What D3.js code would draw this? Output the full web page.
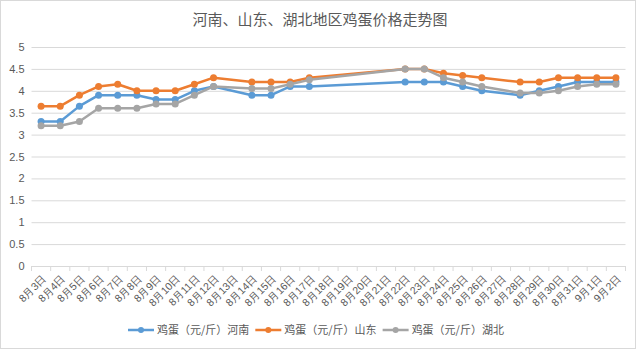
<!DOCTYPE html>
<html><head><meta charset="utf-8">
<script src="https://cdn.jsdelivr.net/npm/d3@7"></script>
<style>body{margin:0;background:#fff;}svg{display:block;font-family:"Noto Sans CJK SC","Microsoft YaHei",sans-serif;}</style>
</head><body><svg id="c" width="640" height="350"></svg>
<script>
const dates = ["8月3日","8月4日","8月5日","8月6日","8月7日","8月8日","8月9日","8月10日","8月11日","8月12日","8月13日","8月14日","8月15日","8月16日","8月17日","8月18日","8月19日","8月20日","8月21日","8月22日","8月23日","8月24日","8月25日","8月26日","8月27日","8月28日","8月29日","8月30日","8月31日","9月1日","9月2日"];
const henan =    [3.3,3.3,3.65,3.9,3.9,3.9,3.8,3.8,4.0,4.1,null,3.9,3.9,4.1,4.1,null,null,null,null,4.2,4.2,4.2,4.1,4.0,null,3.9,4.0,4.1,4.2,4.2,4.2];
const shandong = [3.65,3.65,3.9,4.1,4.15,4.0,4.0,4.0,4.15,4.3,null,4.2,4.2,4.2,4.3,null,null,null,null,4.5,4.5,4.4,4.35,4.3,null,4.2,4.2,4.3,4.3,4.3,4.3];
const hubei =    [3.2,3.2,3.3,3.6,3.6,3.6,3.7,3.7,3.9,4.1,null,4.05,4.05,4.15,4.25,null,null,null,null,4.5,4.5,4.3,4.2,4.1,null,3.95,3.95,4.0,4.1,4.15,4.15];
const seriesNames = ["鸡蛋（元/斤）河南","鸡蛋（元/斤）山东","鸡蛋（元/斤）湖北"];
const colors = ["#5B9BD5","#ED7D31","#A5A5A5"];
const yTicks = [0,0.5,1,1.5,2,2.5,3,3.5,4,4.5,5];
const title = "河南、山东、湖北地区鸡蛋价格走势图";

const svg = d3.select("#c");
svg.append("rect").attr("x",0.5).attr("y",0.5).attr("width",635).attr("height",348).attr("fill","#fff").attr("stroke","#d9d9d9");

const x = d3.scaleBand().domain(dates).range([31.5,625.5]);
const y = d3.scaleLinear().domain([0,5]).range([266,47]);

svg.append("text").attr("x",320).attr("y",25).attr("text-anchor","middle").attr("font-size",15).attr("fill","#595959").text(title);

// grid
const gy = svg.append("g").attr("transform","translate(31.5,0)")
  .call(d3.axisLeft(y).tickValues(yTicks).tickSize(-594).tickFormat(d3.format("")));
gy.select(".domain").remove();
gy.selectAll(".tick line").attr("stroke","#d9d9d9");
gy.selectAll(".tick text").attr("fill","#595959").attr("font-size",11).attr("x",-7);

// x axis
const gx = svg.append("g").attr("transform","translate(0,266)")
  .call(d3.axisBottom(x).tickSize(0));
gx.select(".domain").attr("stroke","#d9d9d9");
gx.selectAll(".tick text").attr("fill","#595959").attr("font-size",10.5)
  .attr("text-anchor","end").attr("y",0).attr("dy",0).attr("transform","translate(6,13) rotate(-45)");
// boundary ticks
const edges = d3.range(dates.length+1).map(i => 31.5 + i*x.step());
svg.append("g").selectAll("line").data(edges).join("line")
  .attr("x1",d=>d).attr("x2",d=>d).attr("y1",266).attr("y2",271).attr("stroke","#d9d9d9");

const all = [henan, shandong, hubei];
const cx = i => x(dates[i]) + x.bandwidth()/2;
const line = d3.line().defined(d=>d.v!=null).x(d=>cx(d.i)).y(d=>y(d.v));
all.forEach((s,k)=>{
  const pts = s.map((v,i)=>({v,i})).filter(d=>d.v!=null);
  svg.append("path").datum(pts).attr("d",line).attr("fill","none").attr("stroke",colors[k]).attr("stroke-width",2.5).attr("stroke-linejoin","round");
  svg.append("g").selectAll("circle").data(pts).join("circle")
    .attr("cx",d=>cx(d.i)).attr("cy",d=>y(d.v)).attr("r",3.5).attr("fill",colors[k]);
});

// legend
const lg = svg.append("g");
let lx = 128;
seriesNames.forEach((n,k)=>{
  const g = lg.append("g").attr("transform",`translate(${lx},330)`);
  g.append("line").attr("x1",0).attr("x2",26).attr("y1",0).attr("y2",0).attr("stroke",colors[k]).attr("stroke-width",2.5);
  g.append("circle").attr("cx",13).attr("cy",0).attr("r",3).attr("fill",colors[k]);
  const t = g.append("text").attr("x",29).attr("y",4).attr("font-size",11).attr("fill","#595959").text(n);
  lx += 29 + t.node().getComputedTextLength() + 6;
});
</script></body></html>
